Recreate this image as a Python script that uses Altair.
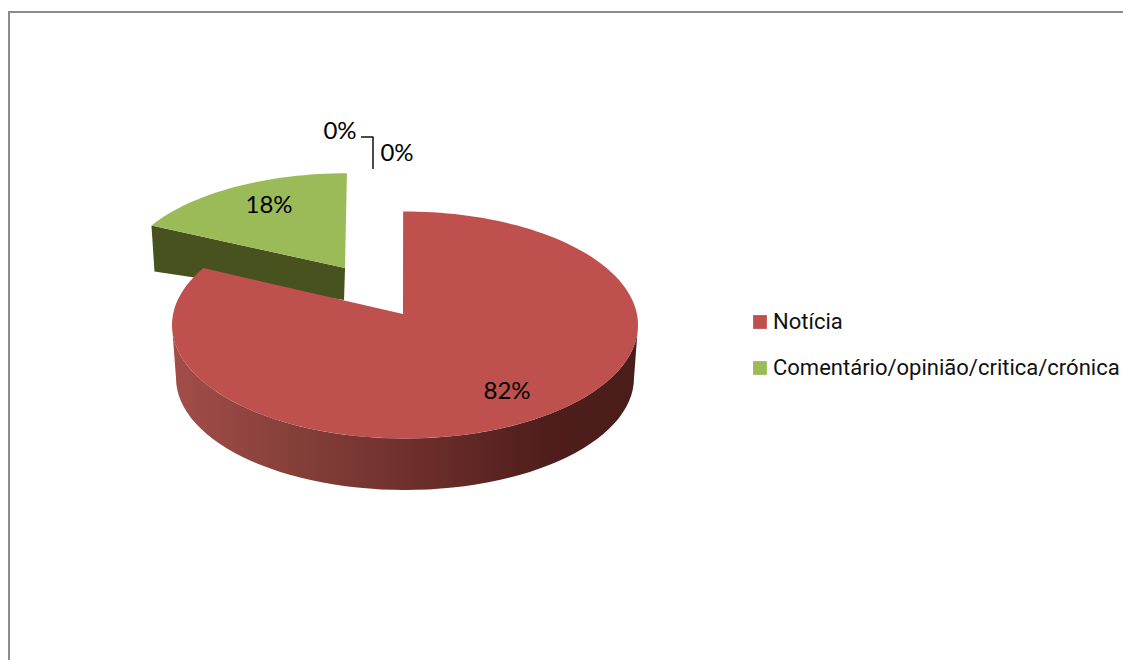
import math
import altair as alt
import pandas as pd

# ---- data ----
slices = ["Notícia", "Comentário/opinião/critica/crónica"]
shares = [82, 18]
label_texts = ["82%", "18%", "0%", "0%"]
slice_colors = ["#BE504D", "#9BBB59"]

# ---- page geometry of the tilted pie ----
W, H = 1115, 652
CX, CY, RX, RY = 405.0, 325.0, 233.0, 113.5
APEX_X, APEX_Y = 403.0, 314.0
TILT = (CY - APEX_Y) / RY
WALL_CY, WALL_RX, WALL_RY = 378.0, 229.0, 112.0
START_ANGLE = -0.5


def project(theta):
    """Pie angle (clockwise from 12 o'clock, degrees) -> point on the tilted rim."""
    u, v = math.sin(math.radians(theta)), math.cos(math.radians(theta))
    d = 1 + TILT * v
    return u * math.sqrt(1 - TILT ** 2) / d, (v + TILT) / d


def rim(start, end, step=2.0):
    n = max(2, int(abs(end - start) / step))
    return [project(start + (end - start) * i / n) for i in range(n + 1)]


split = shares[0] / sum(shares) * 360.0
rows = []


def add(part, name, pts):
    for i, (x, y) in enumerate(pts):
        rows.append({"part": part, "slice": name, "seq": i, "x": x, "y": y})


# main slice: top face
add("red_top", slices[0],
    [(APEX_X, APEX_Y)] + [(CX + RX * u, CY - RY * v) for u, v in rim(START_ANGLE, split)])

# main slice: front wall
front = [(CX + RX * math.cos(math.radians(a)), CY + RY * math.sin(math.radians(a))) for a in range(180, -1, -3)]
back = [(CX + WALL_RX * math.cos(math.radians(a)), WALL_CY + WALL_RY * math.sin(math.radians(a))) for a in range(0, 181, 3)]
add("red_wall", slices[0], front + back)

# exploded slice
GX, GY, GSX, GSY = 345.0, 268.0, 0.97, 0.925
green_rim = [(GX + GSX * (CX + RX * u - APEX_X), GY + GSY * (CY - RY * v - APEX_Y)) for u, v in rim(split, 360)]
add("green_top", slices[1], [(GX, GY)] + green_rim)
corner = green_rim[0]
add("green_wall", slices[1],
    [corner, (GX, GY), (GX - 1, GY + 32), (corner[0] + 3, corner[1] + 46)])

df = pd.DataFrame(rows)
x_enc = alt.X("x:Q", axis=None, scale=alt.Scale(domain=[8, 8 + W], nice=False, zero=False))
y_enc = alt.Y("y:Q", axis=None, scale=alt.Scale(domain=[8 + H, 8], nice=False, zero=False))


def part(name):
    return alt.Chart(alt.Data(values=df[df.part == name].to_dict("records")))


wall_gradient = alt.Gradient(
    gradient="linear", x1=0, x2=1, y1=0, y2=0,
    stops=[
        alt.GradientStop(offset=0.0, color="#A34D49"),
        alt.GradientStop(offset=0.25, color="#86403A"),
        alt.GradientStop(offset=0.55, color="#6B2D2A"),
        alt.GradientStop(offset=0.8, color="#4F1E1C"),
        alt.GradientStop(offset=1.0, color="#4A1C1A"),
    ],
)

green_wall = part("green_wall").mark_line(fill="#47521F", strokeWidth=0).encode(x=x_enc, y=y_enc, order="seq:Q")
red_wall = part("red_wall").mark_line(fill=wall_gradient, strokeWidth=0).encode(x=x_enc, y=y_enc, order="seq:Q")

fill_enc = alt.Fill(
    "slice:N",
    scale=alt.Scale(domain=slices, range=slice_colors),
    legend=alt.Legend(
        title=None, orient="none", legendX=741, legendY=303, padding=0,
        symbolType="square", symbolSize=190, symbolStrokeWidth=0,
        labelFont="Roboto", labelFontSize=22, labelColor="#111111",
        labelOffset=2, rowPadding=24, labelLimit=500,
    ),
)
tops = [
    part(n).mark_line(strokeWidth=0).encode(x=x_enc, y=y_enc, order="seq:Q", fill=fill_enc)
    for n in ("green_top", "red_top")
]

label_pos = [(507, 392), (269, 206), (340, 132), (397, 154)]
labels = [
    alt.Chart(alt.Data(values=[{"t": t}])).mark_text(
        font="Lato", fontSize=24, color="#000000", align="center", baseline="middle"
    ).encode(text="t:N", x=alt.value(px - 8), y=alt.value(py - 8))
    for t, (px, py) in zip(label_texts, label_pos)
]

one = alt.Chart(alt.Data(values=[{"a": 1}]))
leader_h = one.mark_rule(color="#111111", strokeWidth=1.5).encode(x=alt.value(353), x2=alt.value(365.5), y=alt.value(129))
leader_v = one.mark_rule(color="#111111", strokeWidth=1.5).encode(x=alt.value(365), y=alt.value(129), y2=alt.value(161))
frame_t = one.mark_rule(color="#8C8C8C", strokeWidth=2).encode(x=alt.value(0), x2=alt.value(W), y=alt.value(4))
frame_l = one.mark_rule(color="#8C8C8C", strokeWidth=2).encode(x=alt.value(1), y=alt.value(3), y2=alt.value(H))

chart = alt.layer(
    frame_t, frame_l, green_wall, tops[0], red_wall, tops[1], *labels, leader_h, leader_v
).properties(
    width=W, height=H, padding=0, autosize=alt.AutoSizeParams(type="none"),
    background="white",
).configure_view(stroke=None)

chart.save("out.html", embed_options={"renderer": "svg", "actions": False})
